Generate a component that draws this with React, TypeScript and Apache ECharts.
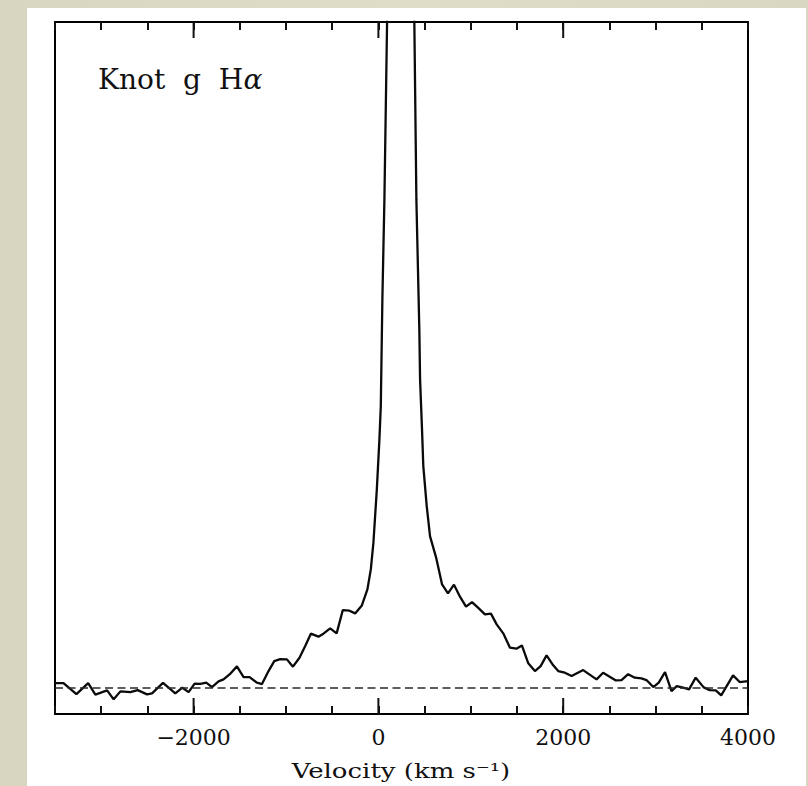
import React, { useEffect, useRef } from "react";
import * as echarts from "echarts";

// Velocity (km/s) and relative flux
const VELOCITY = [
  -3500, -3408, -3268, -3141, -3063, -2936, -2865, -2792, -2684, -2605,
  -2504, -2450, -2331, -2198, -2122, -2054, -1989, -1927, -1863, -1801,
  -1730, -1676, -1611, -1531, -1459, -1394, -1315, -1260, -1189, -1127,
  -1063, -990, -925, -854, -792, -731, -649, -595, -522, -452,
  -385, -313, -252, -179, -119, -82, -54, -17, 11, 26,
  43, 65, 126, 191, 256, 321, 353, 389, 411, 443,
  451, 472, 486, 523, 559, 624, 689, 753, 818, 883,
  948, 1013, 1078, 1153, 1218, 1280, 1351, 1424, 1494, 1553,
  1622, 1694, 1756, 1820, 1892, 1946, 2018, 2091, 2216, 2361,
  2432, 2570, 2631, 2703, 2775, 2847, 2901, 2975, 3034, 3102,
  3172, 3229, 3297, 3362, 3434, 3521, 3586, 3651, 3710, 3838,
  3910, 4000,
];
const FLUX = [
  0.0065, 0.0065, -0.0101, 0.0065, -0.011, -0.0045, -0.018, -0.006, -0.0071, -0.0041,
  -0.0105, -0.009, 0.0068, -0.009, -0.0005, -0.0071, 0.0056, 0.0053, 0.0071, 0.0005,
  0.009, 0.012, 0.0195, 0.0316, 0.0155, 0.0155, 0.0071, 0.005, 0.0245, 0.0395,
  0.0425, 0.0421, 0.0311, 0.0446, 0.0621, 0.0807, 0.0762, 0.0807, 0.0887, 0.0812,
  0.1162, 0.1153, 0.1112, 0.1232, 0.1473, 0.1773, 0.2175, 0.2976, 0.3727, 0.4228,
  0.5831, 0.7334, 1.2955, 1.6351, 1.7103, 1.56, 1.438, 0.9994, 0.7334, 0.538,
  0.4629, 0.3877, 0.3326, 0.2725, 0.2269, 0.1954, 0.1548, 0.1413, 0.1543, 0.1363,
  0.1213, 0.1282, 0.1198, 0.1097, 0.1108, 0.0947, 0.0812, 0.0597, 0.0582, 0.0631,
  0.0361, 0.0245, 0.032, 0.0481, 0.0331, 0.0245, 0.0221, 0.017, 0.026, 0.012,
  0.0221, 0.0105, 0.011, 0.0198, 0.0146, 0.0135, 0.011, 0.0005, 0.0071, 0.023,
  -0.0056, 0.002, -0.0005, -0.003, 0.0146, 0, -0.0041, -0.0045, -0.012, 0.018,
  0.008, 0.0095,
];
const MAJOR_TICKS = [-2000, 0, 2000];
const X_MIN = -3500;
const X_MAX = 4000;
const Y_MIN = -0.04;
const Y_MAX = 1.0;
const CONTINUUM = 0;

const SERIF = "'DejaVu Serif', 'Liberation Serif', serif";

function fmtTick(v: number): string {
  if (v % 2000 !== 0) return "";
  return v < 0 ? "\u2212" + Math.abs(v) : String(v);
}

export default function App() {
  const ref = useRef<HTMLDivElement>(null);

  useEffect(() => {
    if (!ref.current) return;
    const chart = echarts.init(ref.current, undefined, { renderer: "svg" });
    const data = VELOCITY.map((v, i) => [v, FLUX[i]]);

    const baseX = {
      type: "value" as const,
      min: X_MIN,
      max: X_MAX,
      interval: 500,
      axisLine: { show: true, onZero: false, lineStyle: { color: "#000", width: 2 } },
      axisTick: { show: true, inside: true, length: 8, lineStyle: { color: "#111", width: 2 } },
      splitLine: { show: false },
    };
    const baseY = {
      type: "value" as const,
      min: Y_MIN,
      max: Y_MAX,
      axisLine: { show: true, onZero: false, lineStyle: { color: "#000", width: 2 } },
      axisTick: { show: false },
      axisLabel: { show: false },
      splitLine: { show: false },
    };

    chart.setOption({
      animation: false,
      backgroundColor: "transparent",
      grid: { left: 55, top: 22, width: 693, height: 692, containLabel: false },
      xAxis: [
        {
          ...baseX,
          position: "bottom",
          axisLabel: {
            show: true,
            formatter: (v: number) => fmtTick(v),
            fontFamily: SERIF,
            fontSize: 22,
            color: "#111",
            margin: 12,
            showMinLabel: true,
            showMaxLabel: true,
          },
        },
        { ...baseX, position: "top", axisLabel: { show: false } },
      ],
      yAxis: [
        { ...baseY, position: "left" },
        { ...baseY, position: "right" },
      ],
      graphic: [
        {
          type: "text",
          x: 98,
          y: 79,
          scaleX: 1.04,
          style: {
            text: "Knot  g  H{a|\u03b1}",
            fontFamily: SERIF,
            fontSize: 27,
            fill: "#111",
            textAlign: "left",
            textVerticalAlign: "middle",
            rich: {
              a: { fontStyle: "italic", fontFamily: SERIF, fontSize: 27, fill: "#111" },
            },
          },
        },
        {
          type: "text",
          x: 401,
          y: 771,
          scaleX: 1.3,
          style: {
            text: "Velocity (km s\u207b\u00b9)",
            fontFamily: SERIF,
            fontSize: 20,
            fill: "#111",
            textAlign: "center",
            textVerticalAlign: "middle",
          },
        },
      ],
      series: [
        {
          type: "line",
          data,
          xAxisIndex: 0,
          yAxisIndex: 0,
          showSymbol: false,
          symbol: "none",
          clip: true,
          z: 3,
          lineStyle: { color: "#0a0a0a", width: 2.3 },
          markLine: {
            silent: true,
            symbol: "none",
            label: { show: false },
            lineStyle: { color: "#2a2a2a", width: 1.7, type: [8, 4.5] },
            data: [{ yAxis: CONTINUUM }],
          },
        },
        {
          type: "custom",
          xAxisIndex: 0,
          yAxisIndex: 0,
          data: MAJOR_TICKS.map((t) => [t]),
          z: 4,
          renderItem: (params: any, api: any) => {
            const x = api.coord([api.value(0), Y_MIN])[0];
            const cs = params.coordSys;
            const top = cs.y;
            const bottom = cs.y + cs.height;
            const style = { stroke: "#111", lineWidth: 2 };
            return {
              type: "group",
              children: [
                { type: "line", shape: { x1: x, y1: bottom, x2: x, y2: bottom - 16 }, style },
                { type: "line", shape: { x1: x, y1: top, x2: x, y2: top + 16 }, style },
              ],
            };
          },
        },
      ],
    });

    return () => chart.dispose();
  }, []);

  return (
    <div
      style={{
        position: "fixed",
        left: 0,
        top: 0,
        width: 808,
        height: 786,
        background: "linear-gradient(90deg, #d8d6c1 0%, #dfdcc8 50%, #d9d6c2 100%)",
        overflow: "hidden",
      }}
    >
      <div
        style={{
          position: "absolute",
          left: 27,
          top: 8,
          width: 779,
          height: 778,
          background: "#ffffff",
        }}
      />
      <div ref={ref} style={{ position: "absolute", left: 0, top: 0, width: 808, height: 786 }} />
    </div>
  );
}
